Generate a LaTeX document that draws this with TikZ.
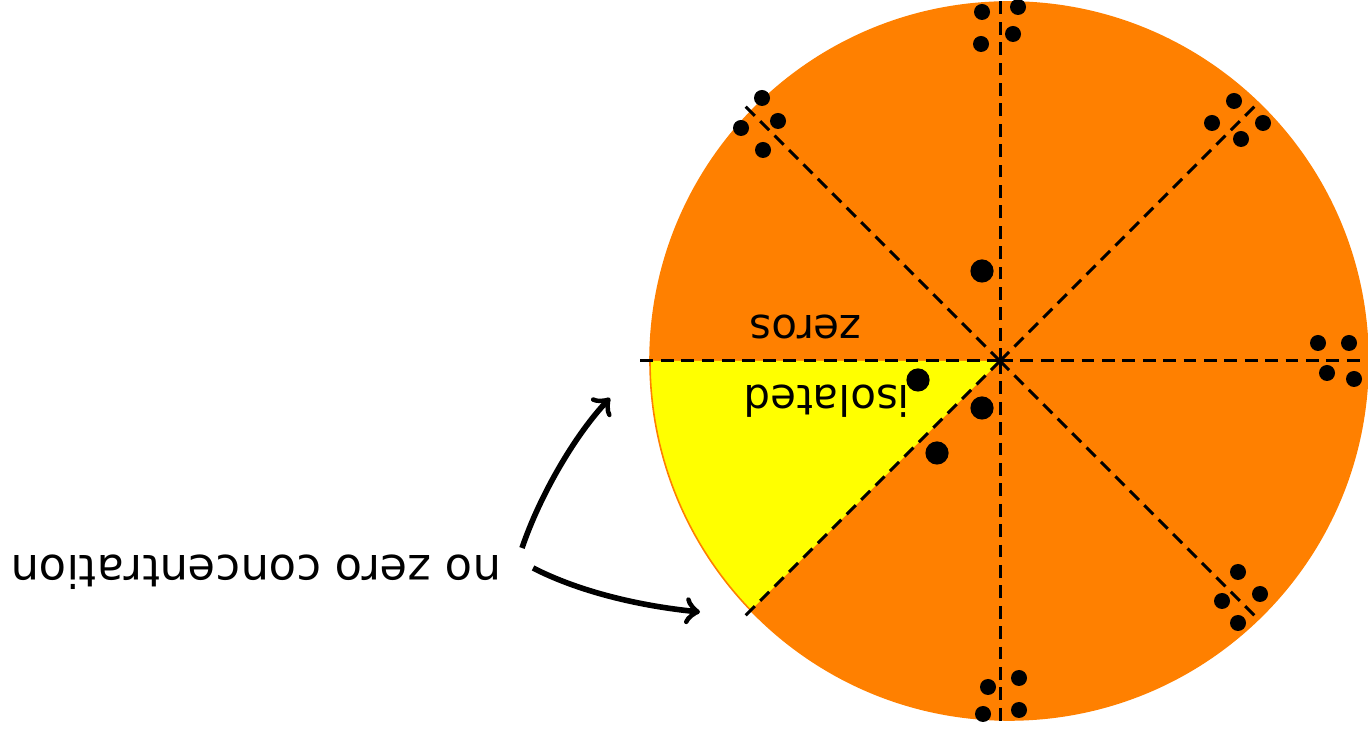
\documentclass[tikz,border=0pt]{standalone}
\usepackage{fontspec}
\setmainfont{DejaVu Sans}
\definecolor{pulp}{RGB}{255,128,0}
\definecolor{seg}{RGB}{255,255,0}
\begin{document}
\begin{tikzpicture}[x=0.25pt,y=-0.25pt,
    ray/.style={line width=0.75pt,dash pattern=on 3.2pt off 1.9pt},
    zero/.style={fill=black},
    lbl/.style={rotate=180,inner sep=0pt,font=\fontsize{10.5}{12}\selectfont}]
        \useasboundingbox (0,0) rectangle (1368,734);
        \coordinate (o) at (1000,361);
        \fill[pulp] (1009,361) circle (89.75pt);
        \begin{scope}
            \clip (1009,361) circle (89.75pt);
            \fill[seg] (o) -- (600,361) -- (600,761) -- cycle;
        \end{scope}
        \draw[pulp,line width=0.4pt] (1009,361) circle (89.75pt);
        \foreach \a in {0,45,...,315}
            \draw[ray] (o) -- ++(\a:363);
        % clusters of zeros
        \foreach \p in {(982,12),(1018,7),(1013,34),(981,44),
                        (988,687),(1019,678),(983,714),(1019,710),
                        (762,98),(778,121),(741,128),(763,150),
                        (1234,101),(1212,123),(1263,123),(1241,139),
                        (1318,343),(1349,343),(1327,373),(1354,379),
                        (1238,572),(1260,594),(1222,601),(1238,623)}
            \fill[zero] \p circle (2pt);
        % isolated zeros
        \foreach \p in {(982,271),(918,380),(982,408),(937,453)}
            \fill[zero] \p circle (2.9pt);
        \node[lbl] (zeros) at (806,327) {zeros};
        \node[lbl] (isolated) at (827,401) {isolated};
        \node[lbl,font=\fontsize{11.2}{13}\selectfont] (noconc) at (256,572) {no zero concentration};
        \coordinate (a1) at (522,548);
        \coordinate (b1) at (610,398);
        \coordinate (a2) at (533,568);
        \coordinate (b2) at (700,612);
        \draw[->,line width=1.4pt] (a1) .. controls (540,495) and (575,435) .. (b1);
        \draw[->,line width=1.4pt] (a2) .. controls (580,592) and (640,606) .. (b2);
    \end{tikzpicture}
\end{document}
